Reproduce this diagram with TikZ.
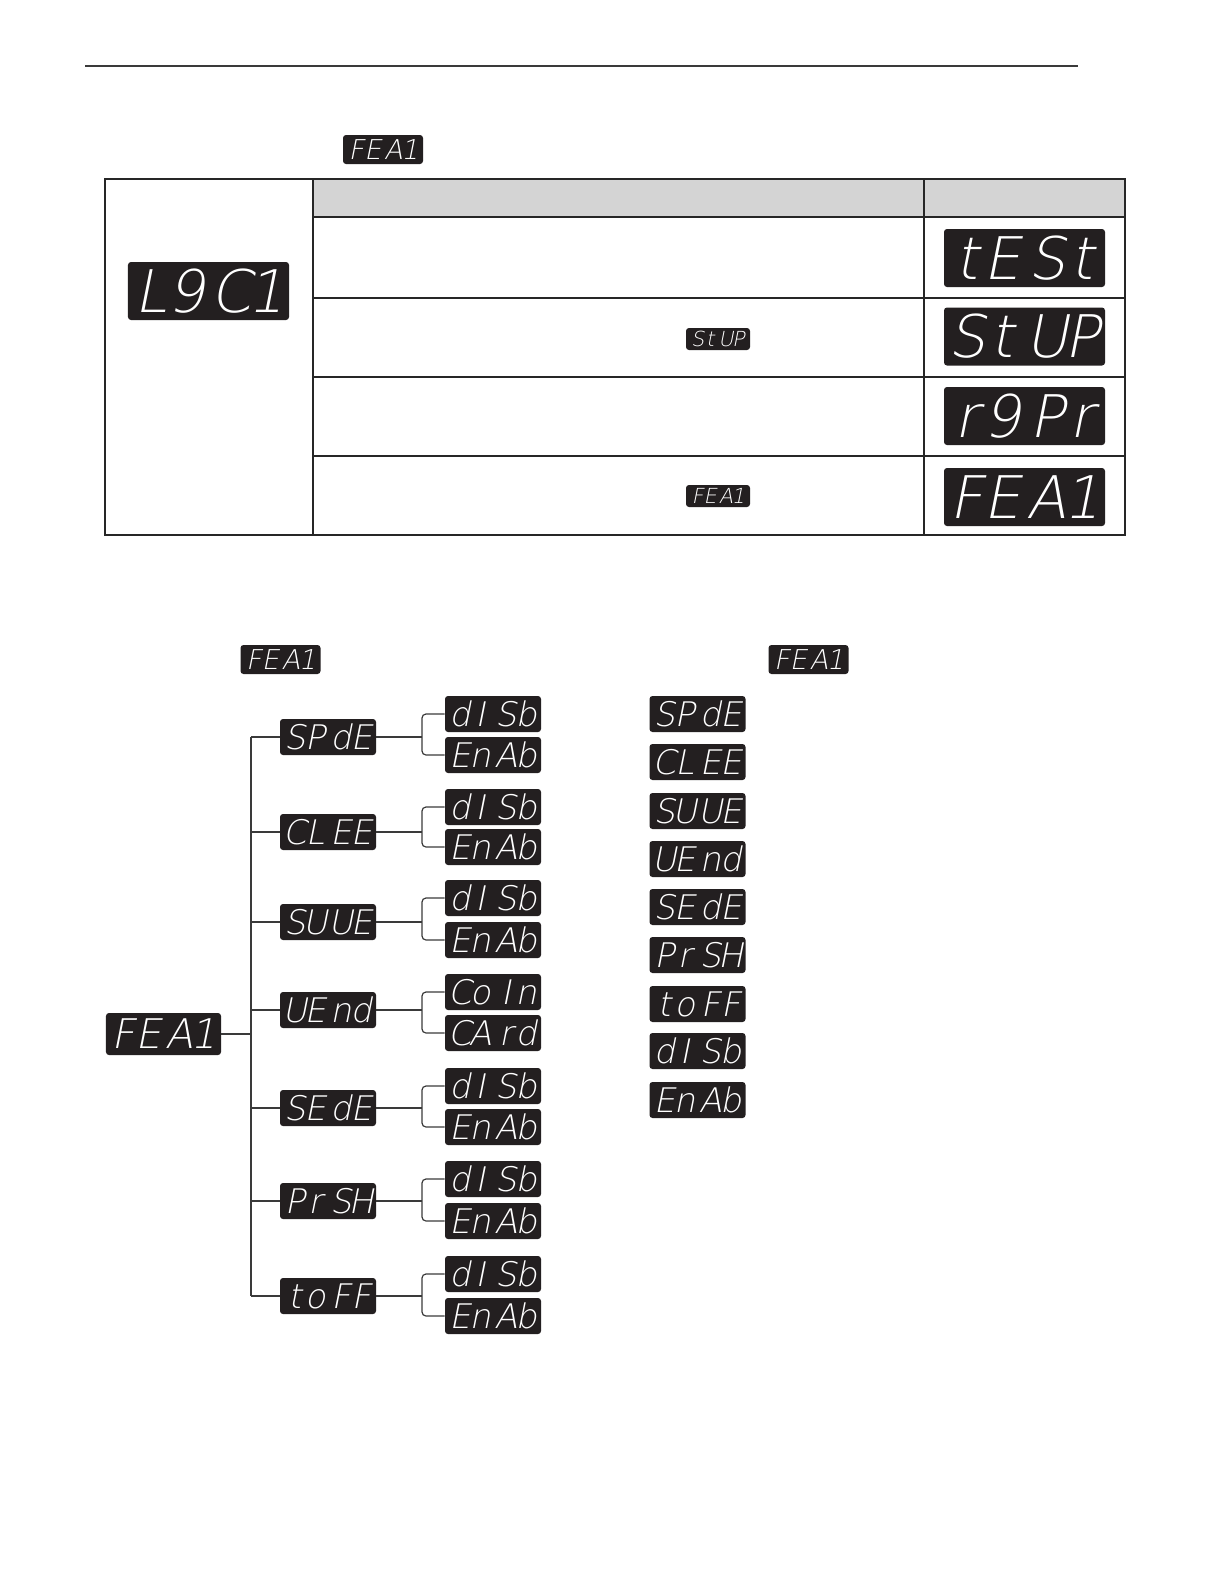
\documentclass[tikz,border=0pt]{standalone}
\usepackage{fontspec}
\newfontfamily\lcdfont[FakeSlant=0.2]{DejaVu Sans ExtraLight}
\definecolor{lcdbg}{HTML}{231F20}
\definecolor{headgray}{HTML}{D4D4D4}
\definecolor{wire}{HTML}{3A3A3A}
% four digit panel, colon gap in the middle
\newcommand{\dig}[4]{\makebox[.6em]{#1}\makebox[.6em]{#2}\hspace{.16em}\makebox[.6em]{#3}\makebox[.6em]{#4}}
\tikzset{
    lcd/.style={fill=lcdbg, text=white, rounded corners=1.5pt, inner sep=0pt, text depth=0pt},
    lcdbig/.style={lcd, minimum width=80.5bp, minimum height=29bp, text height=21.5pt, font=\lcdfont\fontsize{29.5}{29.5}\selectfont},
    lcdroot/.style={lcd, minimum width=57.5bp, minimum height=21bp, text height=15pt, font=\lcdfont\fontsize{20.5}{20.5}\selectfont},
    lcdmid/.style={lcd, minimum width=48bp, minimum height=18bp, text height=12.4pt, font=\lcdfont\fontsize{17}{17}\selectfont},
    lcdsmall/.style={lcd, minimum width=40bp, minimum height=14.5bp, text height=10pt, font=\lcdfont\fontsize{13.7}{13.7}\selectfont},
    lcdtiny/.style={lcd, minimum width=32bp, minimum height=11bp, text height=7.6pt, font=\lcdfont\fontsize{10.4}{10.4}\selectfont},
    wire/.style={draw=wire, line width=.6bp},
    grid/.style={draw=black!85, line width=1bp}}

\begin{document}
\begin{tikzpicture}[x=0.5bp, y=-0.5bp]
    \useasboundingbox (0,0) rectangle (1224,1584);

    % page rule
    \draw[wire] (85,66) -- (1078,66);

    \node[lcdsmall] (featop) at (383,149.5) {\dig FEA1};

    % table
    \fill[headgray] (313,179) rectangle (1125,217);
    \draw[grid] (105,179) rectangle (1125,535);
    \draw[grid] (313,179) -- (313,535);
    \draw[grid] (924,179) -- (924,535);
    \foreach \yy in {217,298,377,456}
        \draw[grid] (313,\yy) -- (1125,\yy);

    \node[lcdbig] (lgc) at (208.5,291) {\dig L9C1};
    \node[lcdbig] (test) at (1024.5,258) {\dig tESt};
    \node[lcdbig] (stup) at (1024.5,336.5) {\dig StUP};
    \node[lcdbig] (rgpr) at (1024.5,416) {\dig r9Pr};
    \node[lcdbig] (fea) at (1024.5,497) {\dig FEA1};
    \node[lcdtiny] (stupin) at (718,339) {\dig StUP};
    \node[lcdtiny] (feain) at (718,496) {\dig FEA1};

    % menu tree
    \node[lcdsmall] (feaL) at (280.5,659.5) {\dig FEA1};
    \node[lcdsmall] (feaR) at (808.5,659.5) {\dig FEA1};

    \coordinate (trunk) at (251,0);
    \coordinate (bx) at (422,0);
    \node[lcdroot] (root) at (163.5,1034) {\dig FEA1};

    \foreach \n/\t/\y/\ya/\ta/\yb/\tb in {
        spde/{\dig SPdE}/737/714/{\dig dISb}/755/{\dig EnAb},
        clee/{\dig CLEE}/832/807/{\dig dISb}/847/{\dig EnAb},
        suue/{\dig SUUE}/922/898/{\dig dISb}/940/{\dig EnAb},
        uend/{\dig UEnd}/1010/992/{\dig CoIn}/1033/{\dig CArd},
        sede/{\dig SEdE}/1108/1086/{\dig dISb}/1127/{\dig EnAb},
        prsh/{\dig PrSH}/1201/1179/{\dig dISb}/1221/{\dig EnAb},
        toff/{\dig toFF}/1296/1274/{\dig dISb}/1316/{\dig EnAb}}
    {
        \node[lcdmid] (\n) at (328,\y) {\t};
        \node[lcdmid] (\n-a) at (493,\ya) {\ta};
        \node[lcdmid] (\n-b) at (493,\yb) {\tb};
        \draw[wire] (\n.west) -- (\n.west -| trunk);
        \draw[wire] (\n.east) -- (\n.east -| bx);
        \draw[wire, rounded corners=2bp] (\n-a.west) -| (\n.east -| bx) |- (\n-b.west);
    }
    \draw[wire] (root.east) -- (root.east -| trunk);
    \draw[wire] (spde.west -| trunk) -- (toff.west -| trunk);

    % option list
    \foreach \n/\t/\y in {
        r-spde/{\dig SPdE}/714, r-clee/{\dig CLEE}/762, r-suue/{\dig SUUE}/811,
        r-uend/{\dig UEnd}/859, r-sede/{\dig SEdE}/907, r-prsh/{\dig PrSH}/955,
        r-toff/{\dig toFF}/1004, r-disb/{\dig dISb}/1051, r-enab/{\dig EnAb}/1100}
        \node[lcdmid] (\n) at (697.5,\y) {\t};

\end{tikzpicture}
\end{document}
